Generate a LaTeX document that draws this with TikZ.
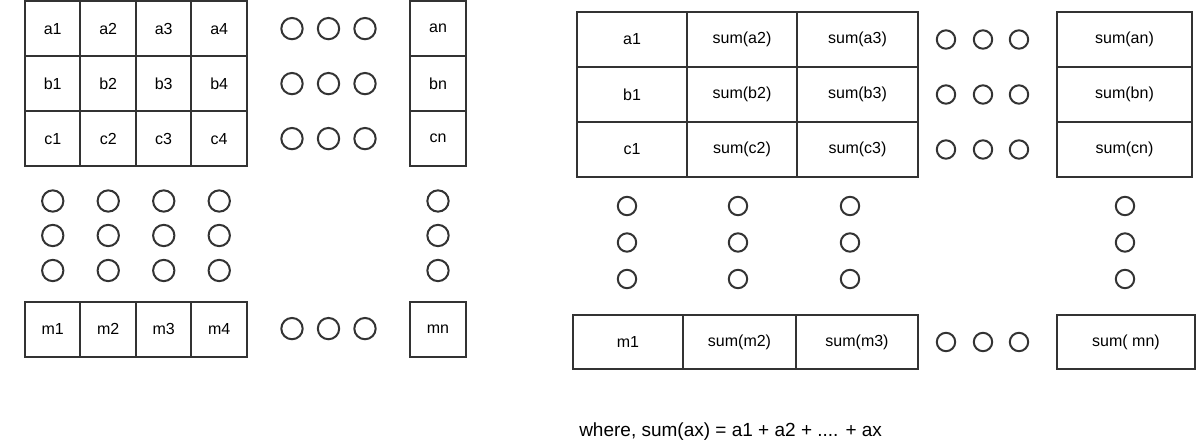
\documentclass[tikz,border=0pt]{standalone}
\usepackage{fontspec}
\setmainfont{Liberation Sans}
\usetikzlibrary{positioning}
\definecolor{gridgray}{HTML}{333333}
\tikzset{cell/.style={rectangle,draw=gridgray,line width=1.5pt,inner sep=0pt,outer sep=0pt,font=\fontsize{12}{14}\selectfont}}
\tikzset{lcell/.style={cell,minimum width=41.6pt,minimum height=41.25pt}}
\tikzset{rcell/.style={cell,minimum height=41.25pt}}
\tikzset{ldot/.style={draw=gridgray,line width=1.5pt}}

\begin{document}
\begin{tikzpicture}[x=0.75pt,y=-0.75pt]
\useasboundingbox (0,0) rectangle (1200,443);
% left block
\node (a1) [lcell] at (52.75,28.6) {a1};
\node (a2) [lcell,right=0pt of a1] {a2};
\node (a3) [lcell,right=0pt of a2] {a3};
\node (a4) [lcell,right=0pt of a3] {a4};
\node (b1) [lcell,below=0pt of a1] {b1};
\node (b2) [lcell,below=0pt of a2] {b2};
\node (b3) [lcell,below=0pt of a3] {b3};
\node (b4) [lcell,below=0pt of a4] {b4};
\node (c1) [lcell,below=0pt of b1] {c1};
\node (c2) [lcell,below=0pt of b2] {c2};
\node (c3) [lcell,below=0pt of b3] {c3};
\node (c4) [lcell,below=0pt of b4] {c4};
\node (an) [lcell] at (438,28.6) {an};
\node (bn) [lcell,below=0pt of an] {bn};
\node (cn) [lcell,below=0pt of bn] {cn};
\node (m1) [lcell] at (52.75,329.2) {m1};
\node (m2) [lcell,right=0pt of m1] {m2};
\node (m3) [lcell,right=0pt of m2] {m3};
\node (m4) [lcell,right=0pt of m3] {m4};
\node (mn) [lcell] at (438,329.2) {mn};
%
\foreach \y in {28.6,83.6,138.6,328.6}
  \foreach \x in {292,328.5,365}
    \draw[ldot] (\x,\y) circle[radius=8pt];
\foreach \y in {201,235.5,270.5}
  \foreach \x in {52.75,108.25,163.75,219.25,438}
    \draw[ldot] (\x,\y) circle[radius=8pt];
% right block
\node (ra1) [rcell,minimum width=82.5pt] at (632,39.5) {a1};
\node (sa2) [rcell,minimum width=82.5pt,right=0pt of ra1] {sum(a2)};
\node (sa3) [rcell,minimum width=90.75pt,right=0pt of sa2] {sum(a3)};
\node (rb1) [rcell,minimum width=82.5pt,below=0pt of ra1] {b1};
\node (sb2) [rcell,minimum width=82.5pt,below=0pt of sa2] {sum(b2)};
\node (sb3) [rcell,minimum width=90.75pt,below=0pt of sa3] {sum(b3)};
\node (rc1) [rcell,minimum width=82.5pt,below=0pt of rb1] {c1};
\node (sc2) [rcell,minimum width=82.5pt,below=0pt of sb2] {sum(c2)};
\node (sc3) [rcell,minimum width=90.75pt,below=0pt of sb3] {sum(c3)};
\node (san) [rcell,minimum width=101.25pt] at (1124.5,39.5) {sum(an)};
\node (sbn) [rcell,minimum width=101.25pt,below=0pt of san] {sum(bn)};
\node (scn) [rcell,minimum width=101.25pt,below=0pt of sbn] {sum(cn)};
\node (rm1) [rcell,minimum width=82.5pt,minimum height=40.5pt] at (628,342) {m1};
\node (sm2) [rcell,minimum width=84.75pt,minimum height=40.5pt,right=0pt of rm1] {sum(m2)};
\node (sm3) [rcell,minimum width=91.5pt,minimum height=40.5pt,right=0pt of sm2] {sum(m3)};
\node (smn) [rcell,minimum width=103.5pt,minimum height=40.5pt] at (1126,342) {sum( mn)};
%
\foreach \y in {39.5,94.5,149.5,342}
  \foreach \x in {946,983,1019}
    \draw[ldot] (\x,\y) circle[radius=6.9pt];
\foreach \y in {206,242.5,279}
  \foreach \x in {627,738,850,1125}
    \draw[ldot] (\x,\y) circle[radius=6.9pt];
%
\node (note) [anchor=base west,inner sep=0pt,font=\fontsize{14.25}{17}\selectfont] at (579,436.7) {where, sum(ax) = a1 + a2 + .... + ax};
\end{tikzpicture}
\end{document}
